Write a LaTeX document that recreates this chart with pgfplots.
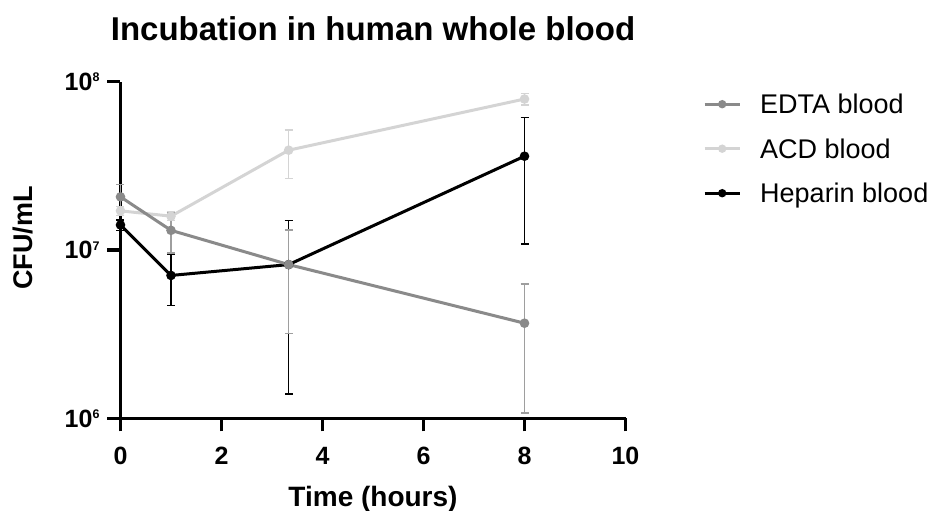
\documentclass[border=0pt]{standalone}
\usepackage{pgfplots}
\pgfplotsset{compat=1.18}
\usepackage{fontspec}
\setmainfont{Liberation Sans}
\definecolor{edta}{RGB}{138,138,138}
\definecolor{edtaerr}{RGB}{158,158,158}
\definecolor{acd}{RGB}{212,212,212}
\newcommand{\pw}[1]{\textbf{10}\raisebox{8.4pt}{\fontsize{12.5}{12.5}\selectfont\bfseries #1}}
\begin{document}
\begin{tikzpicture}
\begin{axis}[
  scale only axis, width=505pt, height=336.8pt,
  xmin=0, xmax=10, ymin=1e6, ymax=1e8, ymode=log,
  clip=false,
  axis lines=left, axis line style={-, line width=3.2pt, black},
  xtick={0,2,4,6,8,10}, ytick={1e6,1e7,1e8},
  yticklabels={\pw{6},\pw{7},\pw{8}},
  yminorticks=false,
  tick align=outside, major tick length=13pt,
  tick style={line width=3.2pt, black},
  /pgf/number format/assume math mode=true,
  tick label style={font=\bfseries\fontsize{25}{30}\selectfont},
  xticklabel style={font=\bfseries\fontsize{25}{30}\selectfont, anchor=base, yshift=-32.8pt},
  yticklabel style={font=\bfseries\fontsize{25}{30}\selectfont, anchor=east, xshift=-4.5pt},
  title={Incubation in human whole blood},
  title style={font=\bfseries\fontsize{33}{40}\selectfont, at={(axis description cs:0.5,1)}, anchor=base, yshift=34.7pt},
  xlabel={Time (hours)},
  xlabel style={font=\bfseries\fontsize{28}{32}\selectfont, at={(axis description cs:0.5,0)}, anchor=base, yshift=-88pt},
  ylabel={CFU/mL},
  ylabel style={font=\bfseries\fontsize{27}{32}\selectfont, at={(axis description cs:-0.193,0.536)}, anchor=center},
  reverse legend,
  legend style={at={(axis description cs:1.1535,0.962)}, anchor=north west, draw=none, fill=none, inner sep=0pt, row sep=25.5pt,
    font=\fontsize{27}{30}\selectfont, nodes={inner sep=0pt, text height=19pt, text depth=0pt}},
  legend cell align=left,
  legend image code/.code={\draw[mark repeat=2, mark phase=2, mark size=2.6pt] plot coordinates {(0pt,0pt) (17.5pt,0pt) (35pt,0pt)}; \path (54pt,0pt);},
]
% Heparin
\addplot[color=black, line width=3pt, mark=*, mark size=3.2pt,
  error bars/.cd, y dir=both, y explicit,
  error bar style={line width=1.5pt, black},
  error mark options={rotate=90, mark size=4pt, line width=1.5pt, black}]
  table[x=x, y=y, y error=e] {
x     y        e
0     1.41e7   1.0e6
1     7.07e6   2.38e6
3.33  8.2e6    6.8e6
8     3.61e7   2.52e7
};
\addlegendentry{Heparin blood}
% ACD
\addplot[color=acd, line width=3pt, mark=*, mark size=3.2pt,
  error bars/.cd, y dir=both, y explicit,
  error bar style={line width=1.5pt, acd},
  error mark options={rotate=90, mark size=4pt, line width=1.5pt, acd}]
  table[x=x, y=y, y error=e] {
x     y        e
0     1.71e7   1.0e6
1     1.59e7   0.9e6
3.33  3.92e7   1.26e7
8     7.89e7   6.0e6
};
\addlegendentry{ACD blood}
% EDTA
\addplot[color=edta, line width=3pt, mark=*, mark size=3.2pt,
  error bars/.cd, y dir=both, y explicit,
  error bar style={line width=1.5pt, edtaerr},
  error mark options={rotate=90, mark size=4pt, line width=1.5pt, edtaerr}]
  table[x=x, y=y, y error=e] {
x     y        e
0     2.07e7   3.8e6
1     1.31e7   3.5e6
3.33  8.2e6    5.0e6
8     3.68e6   2.6e6
};
\addlegendentry{EDTA blood}
\coordinate (O) at (rel axis cs:0,0);
\end{axis}
\pgfresetboundingbox
\useasboundingbox (O) ++(-120.5pt,-92.5pt) rectangle ++(932pt,511pt);
\end{tikzpicture}
\end{document}
